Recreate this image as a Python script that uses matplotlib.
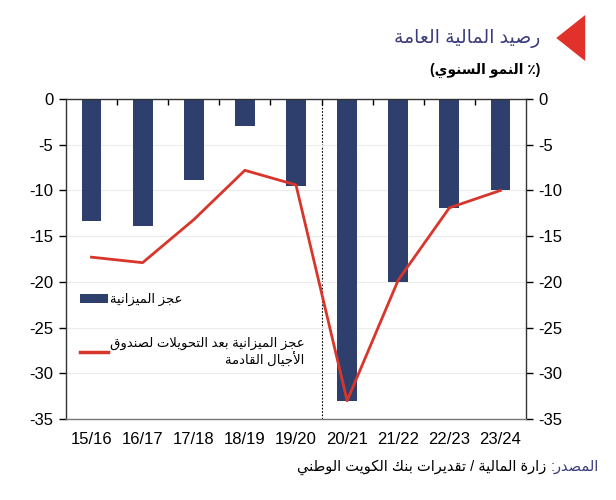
import matplotlib
matplotlib.use("Agg")

import matplotlib.pyplot as plt
from matplotlib.patches import Polygon

# data
years = ['15/16', '16/17', '17/18', '18/19', '19/20', '20/21', '21/22', '22/23', '23/24']
deficit = [-13.3, -13.9, -8.9, -3.0, -9.5, -33.0, -20.0, -11.9, -10.0]
deficit_after_fgf = [-17.3, -17.9, -13.2, -7.8, -9.4, -33.0, -19.8, -11.9, -10.0]
y_ticks = [0, -5, -10, -15, -20, -25, -30, -35]

title_txt = 'رصيد المالية العامة'
subtitle_txt = '(٪ النمو السنوي)'
bar_label = 'عجز الميزانية'
line_label = ['عجز الميزانية بعد التحويلات لصندوق', 'الأجيال القادمة']
source_head = 'المصدر:'
source_rest = 'زارة المالية / تقديرات بنك الكويت الوطني'

BAR_COLOR = '#2E3E6D'
LINE_COLOR = '#D8352B'
TITLE_COLOR = '#3A3C7C'

# minimal arabic shaping (matplotlib has no bidi / joining support)
_DUAL = {
  'ب': 0xFE8F, 'ت': 0xFE95, 'ج': 0xFE9D, 'ح': 0xFEA1, 'س': 0xFEB1,
  'ص': 0xFEB9, 'ط': 0xFEC1, 'ع': 0xFEC9, 'ق': 0xFED5, 'ك': 0xFED9,
  'ل': 0xFEDD, 'م': 0xFEE1, 'ن': 0xFEE5, 'ي': 0xFEF1,
}
_RIGHT = {
  'ا': 0xFE8D, 'أ': 0xFE83, 'د': 0xFEA9, 'ر': 0xFEAD, 'ز': 0xFEAF,
  'و': 0xFEED, 'ة': 0xFE93,
}
_LAM_ALEF = {'ا': 0xFEFB, 'أ': 0xFEF7}
_MIRROR = {'(': ')', ')': '('}


def shape(text):
  """Joins arabic letters and returns the string in visual order."""
  tokens = []
  i = 0
  while i < len(text):
    c = text[i]
    if c == 'ل' and i + 1 < len(text) and text[i + 1] in _LAM_ALEF:
      tokens.append(('R', _LAM_ALEF[text[i + 1]]))
      i += 2
      continue
    if c in _DUAL:
      tokens.append(('D', _DUAL[c]))
    elif c in _RIGHT:
      tokens.append(('R', _RIGHT[c]))
    else:
      tokens.append(('U', c))
    i += 1

  out = []
  for k, (kind, base) in enumerate(tokens):
    if kind == 'U':
      out.append(_MIRROR.get(base, base))
      continue
    prev_joins = k > 0 and tokens[k - 1][0] == 'D'
    next_joins = kind == 'D' and k + 1 < len(tokens) and tokens[k + 1][0] != 'U'
    if prev_joins and next_joins:
      code = base + 3
    elif prev_joins:
      code = base + 1
    elif next_joins:
      code = base + 2
    else:
      code = base
    out.append(chr(code))
  return ''.join(reversed(out))


plt.rcParams['font.family'] = ['Liberation Sans', 'DejaVu Sans']

fig = plt.figure(figsize=(6.16, 5.0), dpi=100)
ax = fig.add_axes([0.107, 0.162, 0.747, 0.640])

x = list(range(len(years)))
bars = ax.bar(x, deficit, width=0.39, color=BAR_COLOR, zorder=2)
line, = ax.plot(x, deficit_after_fgf, color=LINE_COLOR, linewidth=2.0, zorder=3)
ax.axvline(4.5, color='black', linestyle=(0, (1.5, 1.5)), linewidth=0.8, zorder=1)

ax.set_xlim(-0.5, len(years) - 0.5)
ax.set_ylim(-35, 0)
ax.set_yticks(y_ticks)
ax.set_yticklabels([str(v) for v in y_ticks])
ax.yaxis.grid(True, color='#ECECEC', linewidth=0.8, zorder=0)

# category labels under the plot, boundary ticks on the zero line (top)
ax.set_xticks(x)
ax.set_xticklabels(years, fontsize=12)
ax.tick_params(axis='x', which='major', length=0, pad=9)
ax.set_xticks([k + 0.5 for k in x[:-1]], minor=True)
ax.tick_params(axis='x', which='minor', top=True, bottom=False, direction='in',
               length=4, width=1.0)
ax.tick_params(axis='y', labelsize=12, direction='out', length=5, width=1.0,
               left=True, right=True, labelleft=True, labelright=True, pad=4)

for side in ['left', 'right', 'top', 'bottom']:
  ax.spines[side].set_linewidth(1.0)
  ax.spines[side].set_color('#333333')
ax.spines['bottom'].set_color('#777777')

leg = ax.legend([bars, line],
                [shape(bar_label), '\n'.join(shape(s) for s in line_label)],
                loc='upper left', bbox_to_anchor=(0.005, 0.43), frameon=False,
                fontsize=9.5, handlelength=2.1, handleheight=0.6,
                handletextpad=0.15, labelspacing=2.3)
for t in leg.get_texts():
  t.set_multialignment('right')
leg.get_lines()[0].set_linewidth(2.5) if leg.get_lines() else None

# heading
fig.text(0.877, 0.924, shape(title_txt), ha='right', va='center',
         fontsize=13.5, color=TITLE_COLOR)
fig.text(0.877, 0.860, shape(subtitle_txt), ha='right', va='center',
         fontsize=10, fontweight='bold', color='black')
fig.patches.append(Polygon([(0.903, 0.924), (0.950, 0.970), (0.950, 0.878)],
                           closed=True, transform=fig.transFigure,
                           facecolor='#E0322B', edgecolor='none'))

# source: heading word on the right, rest placed directly to its left
head = fig.text(0.972, 0.066, shape(source_head), ha='right', va='center',
                fontsize=10.5, color=TITLE_COLOR)
ax.annotate(shape(source_rest) + ' ', xy=(0, 0.5), xycoords=head,
            ha='right', va='center', fontsize=10.5, color='black',
            annotation_clip=False)

fig.savefig('out.png', dpi=100)
